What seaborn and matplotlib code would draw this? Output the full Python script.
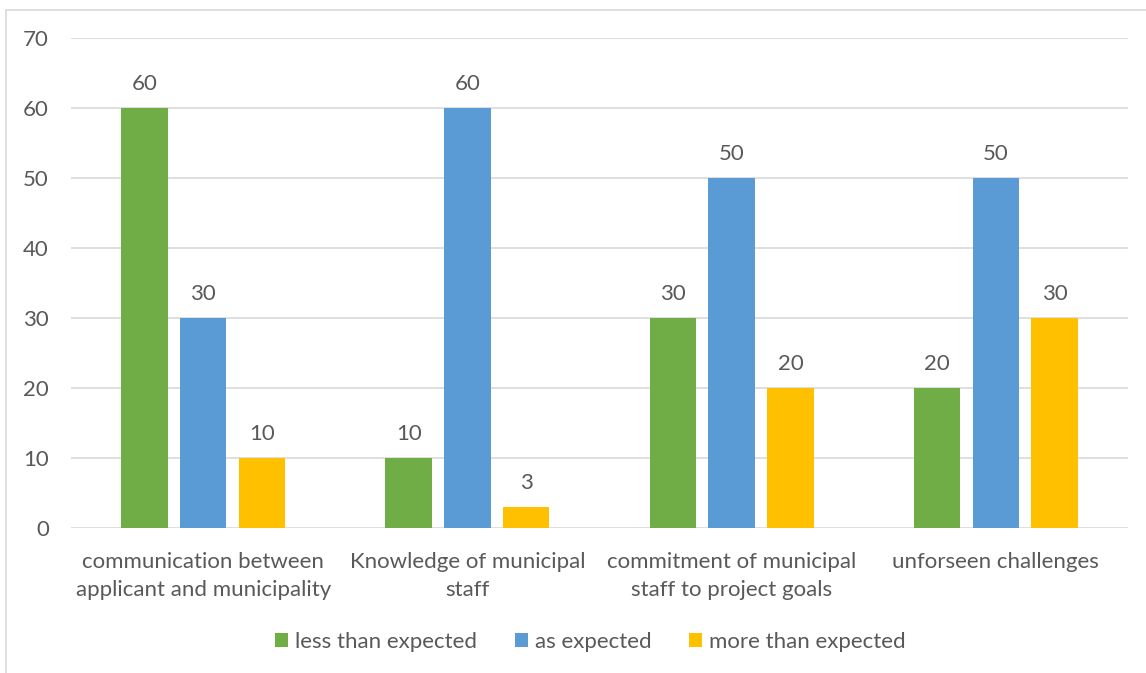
import matplotlib
matplotlib.use("Agg")
import matplotlib.pyplot as plt
import seaborn as sns
import pandas as pd
from matplotlib.lines import Line2D
from matplotlib.patches import Patch

categories = ["communication between\napplicant and municipality",
              "Knowledge of municipal\nstaff",
              "commitment of municipal\nstaff to project goals",
              "unforseen challenges"]
series = ["less than expected", "as expected", "more than expected"]
less_than = [60, 10, 30, 20]
as_expected = [30, 60, 50, 50]
more_than = [10, 3, 20, 30]
colors = ["#70AD47", "#5B9BD5", "#FFC000"]

rows = []
for s, vals in zip(series, [less_than, as_expected, more_than]):
    for c, v in zip(categories, vals):
        rows.append({"category": c, "series": s, "value": v})
df = pd.DataFrame(rows)

sns.set_theme(style="white")
plt.rcParams['font.family'] = ['Lato', 'DejaVu Sans']
text_color = "#595959"
grid_color = "#D9D9D9"
fs = 16

fig = plt.figure(figsize=(11.46, 6.73), dpi=100)
ax = fig.add_axes([71 / 1146, 0.2155, 1057 / 1146, 0.728])

sns.barplot(data=df, x="category", y="value", hue="series", order=categories,
            hue_order=series, palette=colors, width=0.667, gap=0.21,
            saturation=1, ax=ax, legend=False, zorder=3, linewidth=0)

for cont in ax.containers:
    ax.bar_label(cont, padding=10, fontsize=fs, color=text_color)

ax.set_ylim(0, 70)
ax.set_yticks(range(0, 71, 10))
ax.set_xlim(-0.5, 3.5)
ax.yaxis.grid(True, color=grid_color, linewidth=1.2, zorder=0)
ax.set_axisbelow(True)
for sp in ax.spines.values():
    sp.set_visible(False)
ax.set_xlabel("")
ax.set_ylabel("")
ax.tick_params(axis="y", length=0, pad=16, labelsize=fs, labelcolor=text_color)
ax.tick_params(axis="x", length=0, pad=17, labelsize=fs, labelcolor=text_color)
for lbl in ax.get_xticklabels():
    lbl.set_linespacing(1.5)

handles = [Patch(facecolor=c, edgecolor="none") for c in colors]
fig.legend(handles, series, loc="center", bbox_to_anchor=(0.515, 1 - 642 / 673),
           ncol=3, frameon=False, fontsize=fs, labelcolor=text_color,
           handlelength=0.6, handleheight=0.6, handletextpad=0.3,
           columnspacing=1.7)

# chart border (top and left edges visible)
fig.add_artist(Line2D([6 / 1146, 1.0], [1 - 10 / 673, 1 - 10 / 673],
                      color=grid_color, linewidth=1.2, transform=fig.transFigure))
fig.add_artist(Line2D([6 / 1146, 6 / 1146], [0, 1 - 10 / 673],
                      color=grid_color, linewidth=1.2, transform=fig.transFigure))

fig.savefig("out.png", dpi=100, facecolor="white")
